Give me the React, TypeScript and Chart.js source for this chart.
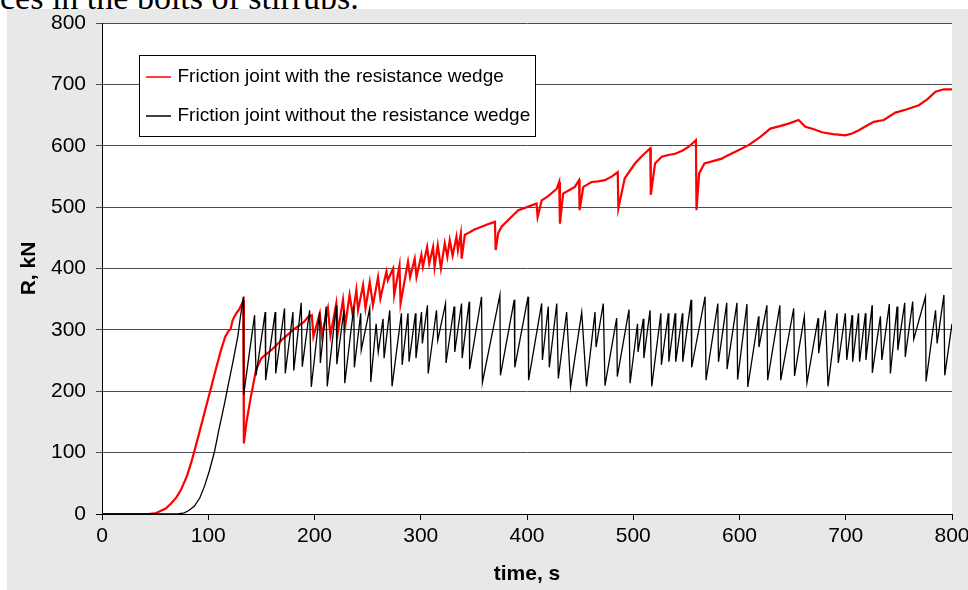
import React, { useEffect, useRef } from "react";
import { Chart, registerables } from "chart.js";

Chart.register(...registerables);

// ---- data (time in s, R in kN) ----
const SERIES_LABELS = [
  "Friction joint with the resistance wedge",
  "Friction joint without the resistance wedge",
];
const SERIES_COLORS = ["#ff0000", "#000000"];
const X_TITLE = "time, s";
const Y_TITLE = "R, kN";
const CAPTION_TEXT = "ces in the bolts of stirrups.";

const withWedge: [number, number][] = [
  [0, 0], [43, 0], [50, 1], [54, 4], [60, 9], [65, 17], [70, 27], [74.5, 40],
  [80, 62], [84, 84], [88, 109], [93.3, 144], [98, 175], [102.7, 206], [107, 235],
  [112, 267], [116, 289], [119, 298], [121, 301], [123, 316], [126, 326], [129, 333], [131, 340],
  [133, 348], [133.5, 115], [136, 150], [140, 190], [145, 235], [150, 254], [160, 268],
  [170, 285], [180, 300], [190, 313], [194, 321], [197.5, 324], [199, 289], [205, 327],
  [207, 291], [212.6, 335], [215, 291], [220.5, 343], [222, 296], [226.8, 349], [229, 307],
  [233, 357], [236, 324], [239.4, 365], [241, 332], [245.7, 373], [248, 335], [252, 378],
  [255, 340], [259.8, 386], [262, 351], [267.7, 395], [269, 381], [274, 400], [275, 357],
  [280, 405], [281, 343], [288, 411], [290, 386], [294.3, 416], [296, 386], [300.6, 422],
  [302, 403], [306, 435], [308, 408], [311.6, 435], [313, 402], [316, 438], [319, 400],
  [322.6, 441], [325, 419], [327.3, 446], [330, 421], [333.6, 452], [335, 430], [337.7, 457],
  [338.5, 416], [341.5, 455], [345, 458], [350, 463], [357.2, 468], [363, 472], [369.8, 476],
  [370.5, 430], [373, 458], [376, 468], [384, 482], [391.8, 495], [400, 500], [409, 506],
  [410, 484], [413.8, 511], [420, 518], [428, 530], [430.3, 541], [431, 473], [434, 522],
  [440, 528], [445, 533], [449, 544], [449.5, 495], [453, 533], [460.8, 541], [467, 542],
  [473.4, 544], [480, 550], [485.4, 557], [486, 498], [492, 547], [501.6, 571], [508, 583],
  [516, 596], [516.5, 520], [520.5, 571], [526.8, 582], [533, 585], [539.4, 587], [546, 592],
  [552, 598], [559, 609], [559.5, 495], [562, 555], [567, 571], [575, 575], [583.4, 579],
  [586.5, 582], [597, 591], [608.5, 601], [620, 615], [629, 628], [638, 632], [646.2, 636],
  [655.6, 642], [662, 631], [670, 627], [677.6, 622], [688, 619], [699.6, 617], [706, 620],
  [712, 625], [720, 633], [726.4, 639], [735.8, 642], [746.7, 654], [757, 659], [768.8, 666],
  [777, 676], [784.5, 688], [792.4, 692], [800, 692],
];

const withoutWedge: [number, number][] = [
  [0, 0], [71, 0], [77.6, 2], [82, 6], [87, 13], [92, 26], [96.4, 45], [101, 70],
  [105.8, 101], [110, 137], [115.3, 180], [119, 212], [123, 246], [127.8, 289], [130, 318],
  [133, 354], [133.3, 194], [143.6, 324], [145, 226], [153.6, 329], [154, 218], [163, 329],
  [163.5, 229], [171.8, 335], [172.5, 229], [179.7, 329], [180.5, 234], [187.5, 344],
  [188.5, 240], [195.4, 332], [197, 207], [204.8, 329], [205.5, 246], [211, 338], [212, 208],
  [220.5, 340], [221, 244], [227.7, 332], [228.5, 213], [237, 338], [237.5, 239], [243.5, 327],
  [244, 267], [252, 335], [253, 215], [258, 310], [260, 264], [264.5, 318], [265.5, 254],
  [270.8, 332], [273, 208], [281.8, 327], [282.5, 243], [288, 327], [289, 248], [295, 327],
  [295.5, 254], [300.7, 329], [301.5, 278], [306.3, 340], [307, 229], [314.8, 332], [316, 283],
  [323.3, 343], [323.8, 246], [331.4, 338], [332, 264], [338.4, 343], [339, 254], [345.6, 346],
  [346, 236], [357.2, 354], [358, 214], [374.5, 357], [375, 226], [388, 349], [388.5, 239],
  [401, 354], [401.5, 218], [413.8, 343], [414.5, 251], [420, 338], [421, 239], [428, 343],
  [429.5, 221], [437.3, 329], [441, 207], [451.5, 329], [456, 208], [464, 329], [465, 272],
  [471.8, 343], [473.4, 209], [484.4, 319], [485, 224], [496, 333], [497, 213], [504, 310],
  [504.5, 264], [509.5, 318], [510, 254], [515.8, 332], [517.4, 208], [526, 327], [526.5, 243],
  [533, 327], [533.5, 248], [539.4, 327], [540, 248], [546.3, 327], [546.6, 248], [554.4, 349],
  [555, 239], [567.6, 354], [568.5, 218], [579.6, 343], [580.2, 248], [588, 344], [588.3, 236],
  [597.6, 344], [598.2, 219], [607, 342], [607.8, 207], [618, 322], [618.3, 272], [625.8, 340],
  [626.5, 218], [638, 340], [638.8, 218], [651, 335], [651.8, 225], [661, 322], [663.5, 214],
  [674, 319], [674.5, 262], [680.8, 332], [683.3, 208], [691.8, 327], [693, 246], [699.6, 327],
  [701, 251], [705.9, 324], [706.5, 248], [712, 327], [713, 248], [718.5, 327], [719, 251],
  [724.8, 340], [725, 230], [732.6, 322], [734, 251], [741, 342], [742, 229], [748.3, 338],
  [749, 267], [755.5, 344], [756, 256], [763, 346], [764, 285], [775, 354], [775.6, 216],
  [784.5, 332], [786, 278], [792.4, 357], [793.2, 226], [800, 310],
];

const FONT = '"Liberation Sans", Arial, sans-serif';

const backgroundPlugin = {
  id: "panelBackground",
  beforeDraw(chart: any) {
    const { ctx, chartArea: a, width, height } = chart;
    ctx.save();
    ctx.fillStyle = "#e8e8e8";
    ctx.fillRect(0, 0, width, height);
    ctx.fillStyle = "#ffffff";
    ctx.fillRect(a.left, a.top, a.right - a.left, a.bottom - a.top);
    ctx.restore();
  },
};

const boxLegendPlugin = {
  id: "boxLegend",
  afterDatasetsDraw(chart: any) {
    const { ctx, chartArea: a } = chart;
    const x = Math.round(a.left + 37);
    const y = Math.round(a.top + 32);
    const w = 396;
    const h = 81;
    ctx.save();
    ctx.fillStyle = "#ffffff";
    ctx.fillRect(x, y, w, h);
    ctx.strokeStyle = "#000000";
    ctx.lineWidth = 1;
    ctx.strokeRect(x + 0.5, y + 0.5, w, h);
    ctx.font = `19px ${FONT}`;
    ctx.textBaseline = "middle";
    ctx.textAlign = "left";
    chart.data.datasets.forEach((ds: any, i: number) => {
      const ly = y + 22 + i * 39;
      ctx.strokeStyle = ds.borderColor;
      ctx.lineWidth = 1.5;
      ctx.beginPath();
      ctx.moveTo(x + 7, ly);
      ctx.lineTo(x + 32, ly);
      ctx.stroke();
      ctx.fillStyle = "#000000";
      ctx.fillText(ds.label, x + 38.5, ly);
    });
    ctx.restore();
  },
};

export default function App() {
  const canvasRef = useRef<HTMLCanvasElement | null>(null);

  useEffect(() => {
    if (!canvasRef.current) return;
    const chart = new Chart(canvasRef.current, {
      type: "line",
      data: {
        datasets: [
          {
            label: SERIES_LABELS[0],
            data: withWedge.map(([x, y]) => ({ x, y })),
            borderColor: SERIES_COLORS[0],
            borderWidth: 2.2,
            pointRadius: 0,
            tension: 0,
            fill: false,
            order: 1,
          },
          {
            label: SERIES_LABELS[1],
            data: withoutWedge.map(([x, y]) => ({ x, y })),
            borderColor: SERIES_COLORS[1],
            borderWidth: 1.3,
            pointRadius: 0,
            tension: 0,
            fill: false,
            order: 0,
          },
        ],
      },
      options: {
        animation: false,
        responsive: false,
        devicePixelRatio: 1,
        layout: {
          autoPadding: false,
          padding: { left: 0, top: 14, right: 16, bottom: 0 },
        },
        plugins: {
          legend: { display: false },
          tooltip: { enabled: false },
        },
        scales: {
          x: {
            type: "linear",
            min: 0,
            max: 800,
            afterFit(scale: any) {
              scale.height = 76;
              scale.paddingLeft = 0;
              scale.paddingRight = 0;
            },
            ticks: {
              stepSize: 100,
              padding: 4,
              maxRotation: 0,
              color: "#000",
              font: { family: FONT, size: 21 },
            },
            grid: {
              drawOnChartArea: false,
              drawTicks: true,
              tickLength: 6,
              color: "#000",
            },
            border: { display: true, color: "#000", width: 1 },
            title: {
              display: true,
              text: X_TITLE,
              color: "#000",
              font: { family: FONT, size: 21, weight: "bold" },
              padding: { top: 0, bottom: 3 },
            },
          },
          y: {
            type: "linear",
            min: 0,
            max: 800,
            afterFit(scale: any) {
              scale.width = 95;
              scale.paddingTop = 0;
              scale.paddingBottom = 0;
            },
            ticks: {
              stepSize: 100,
              padding: 10,
              color: "#000",
              font: { family: FONT, size: 21 },
            },
            grid: {
              drawOnChartArea: true,
              drawTicks: true,
              tickLength: 6,
              color: (ctx: any) => (ctx.tick && ctx.tick.value === 0 ? "#000" : "#4d4d4d"),
            },
            border: { display: true, color: "#000", width: 1 },
            title: {
              display: true,
              text: Y_TITLE,
              color: "#000",
              font: { family: FONT, size: 21, weight: "bold" },
              padding: { top: 10, bottom: 0 },
            },
          },
        },
      },
      plugins: [backgroundPlugin, boxLegendPlugin],
    });
    return () => chart.destroy();
  }, []);

  return (
    <div
      style={{
        position: "absolute",
        left: 0,
        top: 0,
        width: 968,
        height: 590,
        overflow: "hidden",
        background: "#ffffff",
      }}
    >
      <div
        style={{
          position: "absolute",
          left: 0,
          top: -19,
          fontFamily: '"Liberation Serif", "Times New Roman", serif',
          fontSize: 34,
          lineHeight: "34px",
          whiteSpace: "nowrap",
          color: "#000",
        }}
      >
        {CAPTION_TEXT}
      </div>
      <canvas
        ref={canvasRef}
        width={961}
        height={581}
        style={{ position: "absolute", left: 7, top: 9, width: 961, height: 581 }}
      />
    </div>
  );
}
